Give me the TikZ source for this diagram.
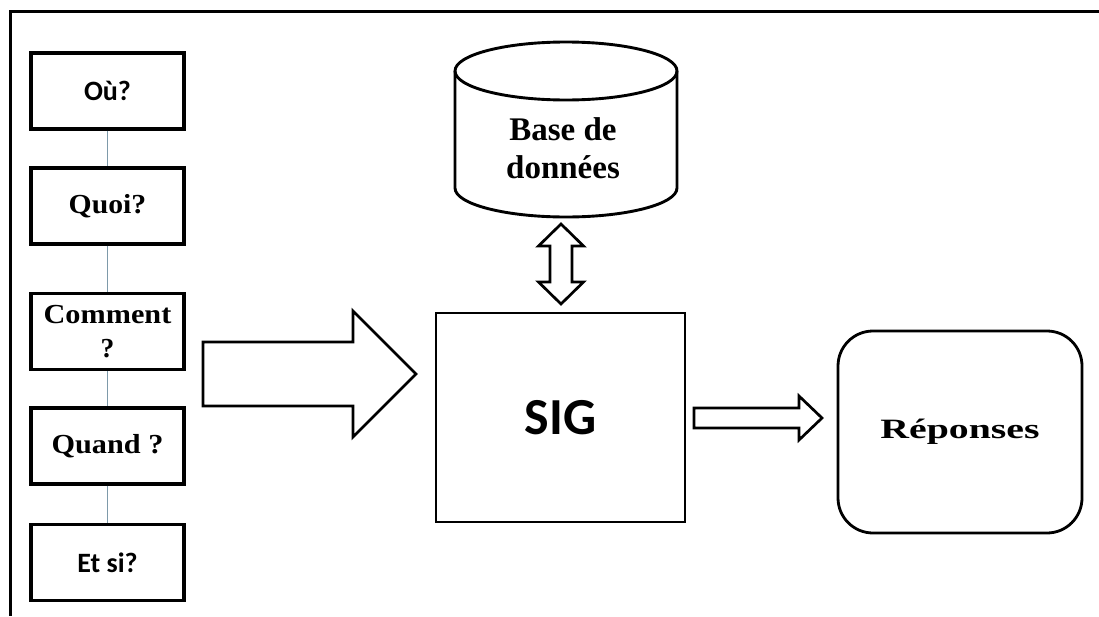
\documentclass[tikz,border=0pt]{standalone}
\usepackage{fontspec}
\setmainfont{Liberation Serif}
\newfontfamily\calib{Carlito}
\definecolor{linkc}{HTML}{7E9AAA}
\begin{document}
\begin{tikzpicture}[x=1pt,y=-1pt,
  box/.style={draw, line width=3.2pt, minimum width=153pt, minimum height=76pt, inner sep=0pt},
  conn/.style={draw=linkc, line width=1.3pt},
  blockarrow/.style={draw, line width=2.7pt, line join=miter, fill=white},
  serifb/.style={font=\fontsize{27.5}{34}\selectfont\bfseries},
  sansb/.style={font=\fontsize{28}{32}\selectfont\calib\bfseries},
  frame/.style={line width=3pt}]
\useasboundingbox (0,0) rectangle (1099,616);
\draw[frame] (1099,11) -- (10.5,11) -- (10.5,616);

% question boxes
\node[box, sansb] (q1) at (107.5,91) {Où?};
\node[box, serifb] (q2) at (107.5,206) {\scalebox{1.08}[1]{Quoi?}};
\node[box, serifb, align=center] (q3) at (107.5,331.5) {\scalebox{1.1}[1]{Comment}\\?};
\node[box, serifb] (q4) at (107.5,446) {\scalebox{1.1}[1]{Quand ?}};
\node[box, sansb] (q5) at (107.5,562.5) {Et si?};
\draw[conn] (q1.south) -- (q2.north);
\draw[conn] (q2.south) -- (q3.north);
\draw[conn] (q3.south) -- (q4.north);
\draw[conn] (q4.south) -- (q5.north);

% database cylinder
\draw[line width=2.9pt] (455,71) -- (455,188) arc[start angle=180,end angle=360,x radius=111pt,y radius=29pt] -- (677,71);
\draw[line width=2.9pt] (566,71) ellipse [x radius=111pt, y radius=29pt];
\node[font=\fontsize{33}{38}\selectfont\bfseries, align=center] (db) at (563,148) {Base de\\données};

% SIG
\node[draw, line width=2.8pt, minimum width=249pt, minimum height=209pt, inner sep=0pt,
      font=\fontsize{52}{60}\selectfont\calib\bfseries] (sig) at (560.5,417.5) {SIG};

% Réponses
\node[draw, line width=2.8pt, rounded corners=35pt, minimum width=244pt, minimum height=202pt, inner sep=0pt,
      font=\fontsize{28}{32}\selectfont\bfseries] (rep) at (960,432) {\scalebox{1.42}[1]{Réponses}};

% double arrow db <-> SIG
\draw[blockarrow] (561,224) -- (583.5,246) -- (572,246) -- (572,282) -- (583.5,282) -- (561,304)
  -- (538.5,282) -- (550,282) -- (550,246) -- (538.5,246) -- cycle;

% big arrow to SIG
\draw[blockarrow] (203,342) -- (353,342) -- (353,311) -- (416,374) -- (353,437) -- (353,406) -- (203,406) -- cycle;

% small arrow SIG -> Réponses
\draw[blockarrow] (694,408) -- (799,408) -- (799,396) -- (822,418) -- (799,440) -- (799,428) -- (694,428) -- cycle;
\end{tikzpicture}
\end{document}
